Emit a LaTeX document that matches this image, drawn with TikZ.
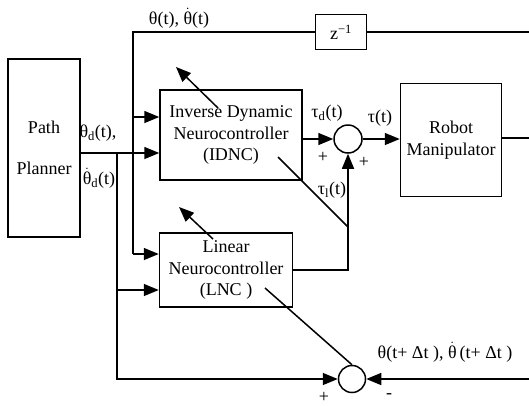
\documentclass[tikz,border=0pt]{standalone}
\usepackage{fontspec}
\setmainfont{Liberation Serif}
\usetikzlibrary{arrows.meta,positioning,calc}
\newcommand{\dtheta}{\ensuremath{\dot{\hbox{θ}}}}
\tikzset{
  blk/.style={draw,line width=1.5pt,fill=white,align=center,inner sep=0pt},
  sumc/.style={draw,circle,line width=1.5pt,inner sep=0pt},
  wire/.style={line width=1.5pt},
  sig/.style={line width=1.5pt,-{Triangle[length=15pt,width=12pt]}},
}

\begin{document}
\begin{tikzpicture}[x=1pt,y=-1pt,every node/.style={font=\fontsize{18}{21.6}\selectfont}]
\useasboundingbox (0,0) rectangle (529,405);
% blocks
\node[blk,minimum width=72pt,minimum height=178pt] (planner) at (44,148){Path\\[20pt]Planner};
\node[blk,minimum width=142pt,minimum height=90pt] (idnc) at (231,135){Inverse Dynamic\\Neurocontroller\\(IDNC)};
\node[blk,minimum width=133pt,minimum height=74pt] (lnc) at (226,270){Linear\\Neurocontroller\\(LNC )};
\node[blk,minimum width=101pt,minimum height=113pt] (robot) at (451,140){Robot\\Manipulator};
\node[blk,minimum width=51pt,minimum height=35pt] (zinv) at (341,32){z\textsuperscript{−1}};
\node[sumc,minimum size=28pt] (sum1) at (348,139){};
\node[sumc,minimum size=27pt] (sum2) at (352,379){};
% branch points
\coordinate (tl) at (133,32);
\coordinate (in1) at (133,117);
\coordinate (in2) at (117,153);
\coordinate (in3) at (133,254);
\coordinate (in4) at (117,290);
\coordinate (outR) at (529,138);
\coordinate (fbtop) at (529,32);
\coordinate (fbbot) at (529,379);
% feedback theta(t)
\draw[wire] (fbtop) -- (zinv.east);
\draw[wire] (zinv.west) -- (tl) -- (in3);
\draw[sig] (in1) -- (in1 -| idnc.west);
\draw[sig] (in3) -- (in3 -| lnc.west);
% desired trajectory
\draw[sig] (planner.east |- in2) -- (in2 -| idnc.west);
\draw[wire] (in2) -- (in4);
\draw[sig] (in4) -- (in4 -| lnc.west);
\draw[sig] (in4) -- (in4 |- sum2.west) -- (sum2.west);
\draw[sig] (fbbot) -- (sum2.east);
% torques
\draw[sig] (idnc.east |- sum1) -- (sum1.west);
\draw[sig] (sum1.east) -- (robot.west |- sum1);
\draw[wire] (robot.east |- outR) -- (outR);
\draw[sig] (lnc.east) -- (lnc.east -| sum1.south) -- (sum1.south);
% learning signals
\coordinate (e1) at (348,227);
\coordinate (e1in) at (278,157);
\coordinate (a1s) at (218,108);
\coordinate (a1e) at (176,67);
\draw[wire] (e1) -- (e1in);
\draw[sig] (a1s) -- (a1e);
\coordinate (e2in) at (265,288);
\coordinate (a2s) at (213,239);
\coordinate (a2e) at (179,207);
\draw[wire] (sum2.north) -- (e2in);
\draw[sig] (a2s) -- (a2e);
% labels
\node (lthfb) at (179,18){θ(t), \dtheta(t)};
\node (lthd) at (98,133){θ\textsubscript{d}(t),};
\node (ldthd) at (99,178){\dtheta\textsubscript{d}(t)};
\node (ltaud) at (327,113){τ\textsubscript{d}(t)};
\node (ltau) at (380,118){τ(t)};
\node (ltaul) at (332,190){τ\textsubscript{l}(t)};
\node (lp1) at (323,157){+};
\node (lp2) at (364,162){+};
\node (lp3) at (324,397){+};
\node (lm3) at (389,396){-};
\node (lthn) at (445,352){θ(t+ Δt ), \dtheta\,(t+ Δt )};
\end{tikzpicture}
\end{document}
